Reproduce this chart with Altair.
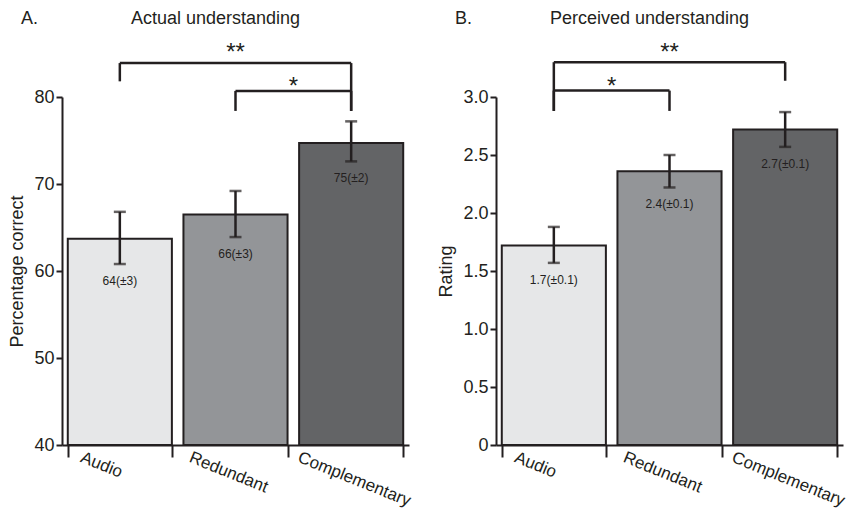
import altair as alt
import pandas as pd

categories = ["Audio", "Redundant", "Complementary"]
bar_colors = ["#e6e7e8", "#939598", "#636466"]

actual_mean = [63.7, 66.5, 74.7]
actual_lo = [60.8, 63.9, 72.6]
actual_hi = [66.8, 69.2, 77.2]
actual_labels = ["64(±3)", "66(±3)", "75(±2)"]

perceived_mean = [1.72, 2.36, 2.72]
perceived_lo = [1.57, 2.22, 2.57]
perceived_hi = [1.88, 2.50, 2.87]
perceived_labels = ["1.7(±0.1)", "2.4(±0.1)", "2.7(±0.1)"]

# significance brackets
actual_br_from = ["Audio", "Redundant"]
actual_br_to = ["Complementary", "Complementary"]
actual_br_level = [83.9, 80.7]
actual_br_from_end = [81.8, 78.4]
actual_br_to_end = [78.4, 78.4]
actual_br_stars = ["**", "*"]
actual_br_star_y = [85.9, 82.0]

perceived_br_from = ["Audio", "Audio"]
perceived_br_to = ["Complementary", "Redundant"]
perceived_br_level = [3.30, 3.055]
perceived_br_from_end = [2.88, 2.88]
perceived_br_to_end = [3.14, 2.88]
perceived_br_stars = ["**", "*"]
perceived_br_star_y = [3.44, 3.15]

FONT = "Liberation Sans"
INK = "#231f20"
W = 347
H = 348
STEP = W / 3

label_offset = {
    "condition": [
        {"test": "datum.value === 'Audio'", "value": -36},
        {"test": "datum.value === 'Redundant'", "value": -43},
    ],
    "value": -50,
}


def panel(letter, title, means, lo, hi, labels, ymin, ymax, yticks, ytitle, label_expr,
          br_from, br_to, br_level, br_from_end, br_to_end, br_stars, br_star_y):
    df = pd.DataFrame({"cat": categories, "mean": means, "lo": lo, "hi": hi,
                       "label": labels, "color": bar_colors})
    xscale = alt.Scale(domain=categories, paddingInner=0.1, paddingOuter=0.05)
    x = alt.X("cat:N", sort=categories, scale=xscale,
              axis=alt.Axis(title=None, labelAngle=22, labelAlign="left", labelBaseline="top",
                            labelOffset=label_offset, labelPadding=-8, tickSize=12,
                            labelFontSize=17, tickBand="extent"))
    yscale = alt.Scale(domain=[ymin, ymax], nice=False, zero=False)
    bars = alt.Chart(df).mark_bar(stroke=INK, strokeWidth=2).encode(
        x=x,
        y=alt.Y("mean:Q", scale=yscale,
                axis=alt.Axis(values=yticks, title=ytitle, tickSize=6, labelPadding=2,
                              titlePadding=7, labelExpr=label_expr)),
        y2=alt.Y2Datum(ymin),
        color=alt.Color("color:N", scale=None),
    )
    xb = alt.X("cat:N", sort=categories, bandPosition=0.5)
    err = alt.Chart(df).mark_rule(color=INK, strokeWidth=2.5).encode(
        x=xb, y="lo:Q", y2="hi:Q")
    cap_lo = alt.Chart(df).mark_tick(color=INK, size=12, thickness=2.5, orient="horizontal").encode(
        x=xb, y="lo:Q")
    cap_hi = alt.Chart(df).mark_tick(color=INK, size=12, thickness=2.5, orient="horizontal").encode(
        x=xb, y="hi:Q")
    txt = alt.Chart(df).mark_text(dy=17, baseline="middle", fontSize=12, font=FONT, color=INK).encode(
        x=xb, y="lo:Q", text="label:N")

    bh = pd.DataFrame({"cat": br_from, "to": br_to, "level": br_level})
    hrule = alt.Chart(bh).mark_rule(color=INK, strokeWidth=2.5).encode(
        x=xb, x2=alt.X2("to:N", bandPosition=0.5), y="level:Q")
    legs = pd.DataFrame({
        "cat": list(br_from) + list(br_to),
        "top": list(br_level) + list(br_level),
        "end": list(br_from_end) + list(br_to_end),
    })
    vrule = alt.Chart(legs).mark_rule(color=INK, strokeWidth=2.5).encode(
        x=xb, y="top:Q", y2="end:Q")

    layers = [bars, err, cap_lo, cap_hi, txt, hrule, vrule]
    for f, t, s, sy in zip(br_from, br_to, br_stars, br_star_y):
        k = categories.index(t) - categories.index(f)
        sd = pd.DataFrame({"cat": [f], "y": [sy], "s": [s]})
        layers.append(
            alt.Chart(sd).mark_text(fontSize=24, font=FONT, color=INK, baseline="alphabetic",
                                    dy=14, dx=k * STEP / 2).encode(x=xb, y="y:Q", text="s:N"))

    td = pd.DataFrame({"t": [title], "l": [letter]})
    layers.append(alt.Chart(td).mark_text(fontSize=18, font=FONT, color=INK, baseline="alphabetic",
                                          align="center").encode(
        text="t:N", x=alt.value(W / 2 - 20), y=alt.value(-73)))
    layers.append(alt.Chart(td).mark_text(fontSize=18, font=FONT, color=INK, baseline="alphabetic",
                                          align="left").encode(
        text="l:N", x=alt.value(-41), y=alt.value(-73)))
    return alt.layer(*layers).properties(width=W, height=H)


pa = panel("A.", "Actual understanding", actual_mean, actual_lo, actual_hi, actual_labels,
           40, 80, [40, 50, 60, 70, 80], "Percentage correct", "format(datum.value, 'd')",
           actual_br_from, actual_br_to, actual_br_level, actual_br_from_end, actual_br_to_end,
           actual_br_stars, actual_br_star_y)
pb = panel("B.", "Perceived understanding", perceived_mean, perceived_lo, perceived_hi,
           perceived_labels, 0, 3, [0, 0.5, 1, 1.5, 2, 2.5, 3], "Rating",
           "datum.value == 0 ? '0' : format(datum.value, '.1f')",
           perceived_br_from, perceived_br_to, perceived_br_level, perceived_br_from_end,
           perceived_br_to_end, perceived_br_stars, perceived_br_star_y)

chart = alt.hconcat(pa, pb, spacing=87, bounds="flush").properties(
    background="white", padding={"left": 0, "top": 2, "right": 0, "bottom": 0}
).configure_view(stroke=None).configure_axis(
    domainColor=INK, domainWidth=2, tickColor=INK, tickWidth=2, labelColor=INK, titleColor=INK,
    labelFont=FONT, titleFont=FONT, labelFontSize=18, titleFontSize=18, titleFontWeight="normal",
    grid=False,
)

chart.save("out.html", embed_options={"renderer": "svg", "actions": False})
